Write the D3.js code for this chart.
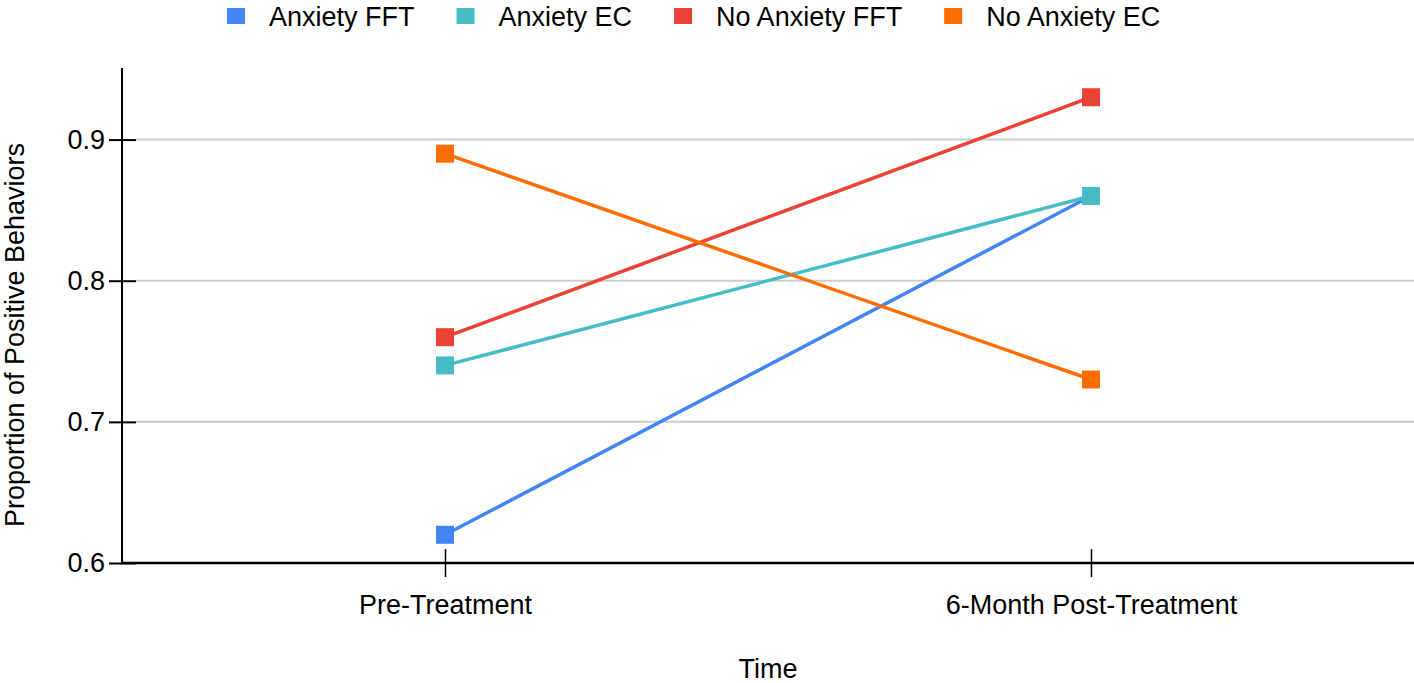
<!DOCTYPE html>
<html>
<head>
<meta charset="utf-8">
<script src="https://cdn.jsdelivr.net/npm/d3@7/dist/d3.min.js"></script>
<style>
  html, body { margin: 0; padding: 0; background: #ffffff; }
  svg { display: block; font-family: "Liberation Sans", Arial, sans-serif; }
</style>
</head>
<body>
<svg id="chart" width="1414" height="683"></svg>
<script>
// ---- Data ----
const categories = ["Pre-Treatment", "6-Month Post-Treatment"];
const seriesNames = ["Anxiety FFT", "Anxiety EC", "No Anxiety FFT", "No Anxiety EC"];
const anxietyFFT = [0.62, 0.86];
const anxietyEC = [0.74, 0.86];
const noAnxietyFFT = [0.76, 0.93];
const noAnxietyEC = [0.89, 0.73];
const yTicks = [0.6, 0.7, 0.8, 0.9];
const yTickLabels = ["0.6", "0.7", "0.8", "0.9"];
const colors = ["#4285f4", "#46bdc6", "#ea4335", "#ff6d01"];
const xTitle = "Time";
const yTitle = "Proportion of Positive Behaviors";

const seriesValues = [anxietyFFT, anxietyEC, noAnxietyFFT, noAnxietyEC];

// ---- Layout ----
const plotLeft = 122, plotRight = 1414, plotTop = 69, plotBottom = 563;
const fontSize = 27;

const svg = d3.select("#chart");

const x = d3.scalePoint().domain(categories).range([plotLeft, plotRight]).padding(0.5);
const y = d3.scaleLinear().domain([0.6, 0.95]).range([plotBottom, plotTop]);

// Gridlines
svg.append("g")
  .selectAll("line")
  .data(yTicks.filter(d => d > 0.6))
  .join("line")
  .attr("x1", plotLeft + 14).attr("x2", plotRight)
  .attr("y1", d => y(d)).attr("y2", d => y(d))
  .attr("stroke", "#cccccc").attr("stroke-width", 2);

// Y axis
const yAxis = d3.axisLeft(y)
  .tickValues(yTicks)
  .tickFormat((d, i) => yTickLabels[i])
  .tickSizeInner(0).tickSizeOuter(0).tickPadding(17);
const gy = svg.append("g").attr("transform", `translate(${plotLeft},0)`).call(yAxis);
gy.select(".domain").remove();
gy.selectAll(".tick text")
  .attr("font-size", fontSize).attr("fill", "#000")
  .attr("font-family", "Liberation Sans, Arial, sans-serif");
gy.selectAll(".tick").append("line")
  .attr("x1", -13).attr("x2", 14).attr("y1", 0).attr("y2", 0)
  .attr("stroke", "#000").attr("stroke-width", 2);
svg.append("line")
  .attr("x1", plotLeft).attr("x2", plotLeft)
  .attr("y1", plotTop - 1).attr("y2", plotBottom)
  .attr("stroke", "#000").attr("stroke-width", 2);

// X axis
const xAxis = d3.axisBottom(x).tickSizeInner(14).tickSizeOuter(0).tickPadding(18);
const gx = svg.append("g").attr("transform", `translate(0,${plotBottom})`).call(xAxis);
gx.select(".domain").remove();
gx.selectAll(".tick line").attr("y1", -14).attr("stroke", "#000").attr("stroke-width", 1.5);
gx.selectAll(".tick text")
  .attr("font-size", fontSize).attr("fill", "#000")
  .attr("font-family", "Liberation Sans, Arial, sans-serif");
svg.append("line")
  .attr("x1", plotLeft - 1).attr("x2", plotRight)
  .attr("y1", plotBottom).attr("y2", plotBottom)
  .attr("stroke", "#000").attr("stroke-width", 2.5);

// Lines and markers
const line = d3.line().x((d, i) => x(categories[i])).y(d => y(d));
seriesValues.forEach((vals, si) => {
  svg.append("path")
    .datum(vals)
    .attr("d", line)
    .attr("fill", "none")
    .attr("stroke", colors[si])
    .attr("stroke-width", 3.5);
});
const ms = 18;
seriesValues.forEach((vals, si) => {
  svg.append("g").selectAll("rect")
    .data(vals)
    .join("rect")
    .attr("x", (d, i) => x(categories[i]) - ms / 2)
    .attr("y", d => y(d) - ms / 2)
    .attr("width", ms).attr("height", ms)
    .attr("fill", colors[si]);
});

// Axis titles
svg.append("text")
  .attr("x", (plotLeft + plotRight) / 2).attr("y", 678)
  .attr("text-anchor", "middle")
  .attr("font-size", fontSize).attr("fill", "#000")
  .text(xTitle);
svg.append("text")
  .attr("transform", `translate(24,335) rotate(-90)`)
  .attr("text-anchor", "middle")
  .attr("font-size", fontSize).attr("fill", "#000")
  .text(yTitle);

// Legend
const legend = svg.append("g");
let lx = 227;
seriesNames.forEach((name, i) => {
  legend.append("rect")
    .attr("x", lx).attr("y", 8)
    .attr("width", 18).attr("height", 16)
    .attr("fill", colors[i]);
  const t = legend.append("text")
    .attr("x", lx + 42).attr("y", 26)
    .attr("font-size", fontSize).attr("fill", "#000")
    .text(name);
  const w = t.node().getComputedTextLength();
  lx = lx + 42 + w + 42;
});
</script>
</body>
</html>
